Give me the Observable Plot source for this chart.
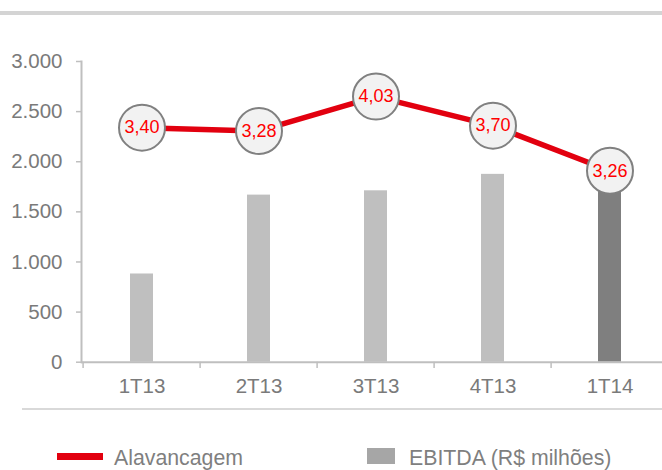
<!DOCTYPE html>
<html>
<head>
<meta charset="utf-8">
<script src="https://cdn.jsdelivr.net/npm/d3@7"></script>
<script src="https://cdn.jsdelivr.net/npm/@observablehq/plot@0.6"></script>
<style>
  html, body { margin: 0; padding: 0; background: #fff; overflow: hidden; }
  body { width: 662px; height: 470px; font-family: "Liberation Sans", Arial, sans-serif; }
  #topband { height: 11px; border-bottom: 4px solid #d4d4d4; }
  #chart { height: 393px; }
  #chart svg { overflow: hidden; }
  #sep { margin-left: 22px; border-top: 2px solid #d9d9d9; }
  #legend { position: relative; height: 58px; color: #7f7f7f; font-size: 21.3px; }
  #legend .sw-line { position: absolute; left: 57px; top: 43px; width: 46px; height: 6.5px; background: #e2000f; }
  #legend .sw-bar { position: absolute; left: 367px; top: 38px; width: 28px; height: 16px; background: #a6a6a6; }
  #legend .lb { position: absolute; line-height: 21px; white-space: nowrap; }
</style>
</head>
<body>
<div id="topband"></div>
<div id="chart"></div>
<div id="sep"></div>
<div id="legend">
  <div class="sw-line"></div><span class="lb" id="lbl1" style="left:114px; top:38px;"></span>
  <div class="sw-bar"></div><span class="lb" id="lbl2" style="left:409px; top:38px;"></span>
</div>
<script>
// ---- data ----
const categorias = ["1T13", "2T13", "3T13", "4T13", "1T14"];
const ebitda = [880, 1667, 1710, 1874, 1780];            // EBITDA (R$ milhões), primary axis
const alavancagem = [3.40, 3.28, 4.03, 3.70, 3.26];       // leverage labels
const linhaPosicao = [2340, 2307, 2650, 2360, 1910];     // plotted line level on primary axis
const destaque = [false, false, false, false, true];
const ticksY = [0, 500, 1000, 1500, 2000, 2500, 3000];
const legendaLinha = "Alavancagem";
const legendaBarra = "EBITDA (R$ milhões)";

const locale = d3.formatLocale({decimal: ",", thousands: ".", grouping: [3], currency: ["R$", ""]});
const fmtMil = locale.format(",d");
const fmtDec = locale.format(".2f");

const dados = categorias.map((c, i) => ({
  cat: c, ebitda: ebitda[i], alav: alavancagem[i], pos: linhaPosicao[i], destaque: destaque[i]
}));

const W = 662, H = 393, ML = 81, MT = 46, MB = 46.3;
const step = (670 - ML) / 5;

const chart = Plot.plot({
  width: W,
  height: H,
  marginLeft: ML,
  marginRight: 0,
  marginTop: MT,
  marginBottom: MB,
  style: {fontFamily: "'Liberation Sans', Arial, sans-serif", background: "white"},
  x: {type: "band", domain: categorias, range: [ML, 670], paddingInner: 0.8, paddingOuter: 0.4, label: null},
  y: {domain: [0, 3000], label: null},
  marks: [
    Plot.barY(dados, {x: "cat", y: "ebitda", fill: d => d.destaque ? "#7f7f7f" : "#bfbfbf"}),
    Plot.ruleY([0], {stroke: "#bfbfbf", strokeWidth: 2}),
    Plot.frame({anchor: "left", stroke: "#bfbfbf", strokeWidth: 2}),
    Plot.ruleX(categorias, {x: d => d, dx: -step / 2, y1: 0, y2: -62, stroke: "#bfbfbf", strokeWidth: 1.5}),
    Plot.axisY({ticks: ticksY, tickSize: 5, tickPadding: 14, tickFormat: fmtMil, stroke: "#bfbfbf", strokeWidth: 1.5, fill: "#7a7a7a", fontSize: 20.5, label: null}),
    Plot.axisX({tickSize: 0, tickPadding: 16, fill: "#7a7a7a", fontSize: 20.5, label: null}),
    Plot.line(dados, {x: "cat", y: "pos", stroke: "#e2000f", strokeWidth: 5.5}),
    Plot.dot(dados, {x: "cat", y: "pos", r: 23, fill: "#f2f2f2", stroke: "#808080", strokeWidth: 2}),
    Plot.text(dados, {x: "cat", y: "pos", text: d => fmtDec(d.alav), fill: "#ff0000", fontSize: 18, ariaLabel: "rotulos"})
  ]
});
document.getElementById("chart").appendChild(chart);

// stretch the circle labels vertically (reference uses a tall, narrow glyph look)
d3.select(chart).selectAll("g[aria-label='rotulos'] text").each(function () {
  const t = d3.select(this);
  const x = +t.attr("x") || 0, y = +t.attr("y") || 0;
  const prev = t.attr("transform") || "";
  t.attr("x", null).attr("y", null)
   .attr("transform", `${prev} translate(${x},${y}) scale(1,1.15)`);
});

document.getElementById("lbl1").textContent = legendaLinha;
document.getElementById("lbl2").textContent = legendaBarra;
</script>
</body>
</html>
